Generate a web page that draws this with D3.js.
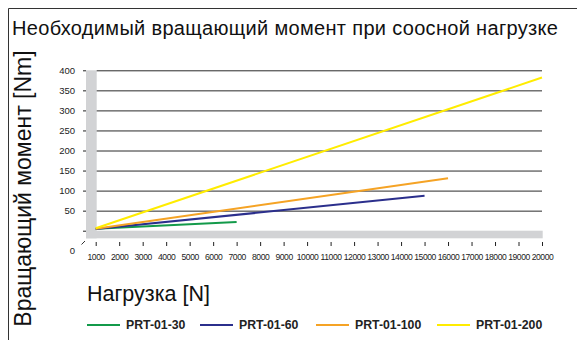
<!DOCTYPE html>
<html>
<head>
<meta charset="utf-8">
<script src="https://cdn.jsdelivr.net/npm/d3@7"></script>
<style>
  html, body { margin: 0; padding: 0; background: #fff; }
  svg { display: block; font-family: "Liberation Sans", Arial, Helvetica, sans-serif; }
</style>
</head>
<body>
<svg id="chart" width="577" height="340"></svg>
<script>
// Load range on the x axis (N) and torque ticks on the y axis (Nm)
const xTicks = [1000, 2000, 3000, 4000, 5000, 6000, 7000, 8000, 9000, 10000,
                11000, 12000, 13000, 14000, 15000, 16000, 17000, 18000, 19000, 20000];
const yTicks = [0, 50, 100, 150, 200, 250, 300, 350, 400];

// Actuator models and their colours
const models = ["PRT-01-30", "PRT-01-60", "PRT-01-100", "PRT-01-200"];
const colors = ["#139a4a", "#2b2f8c", "#f5a325", "#ffec00"];

// Required torque (Nm) at the start and end of each model's load range
const loads = [
  [1000, 7000],
  [1000, 15000],
  [1000, 16000],
  [1000, 20000]
];
const torques = [
  [5, 22],
  [4, 87],
  [5, 131],
  [6, 382]
];

const svg = d3.select("#chart");

const x = d3.scaleLinear().domain([1000, 20000]).range([95.7, 542]);
const y = d3.scaleLinear().domain([0, 400]).range([230.7, 70.3]);

// Outer frame (top and left edges)
svg.append("path")
  .attr("d", "M8.5,340 V8.5 H577")
  .attr("fill", "none").attr("stroke", "#333").attr("stroke-width", 1);

// Title
svg.append("text")
  .attr("x", 12).attr("y", 35)
  .attr("font-size", 20).attr("fill", "#111")
  .attr("letter-spacing", 0.32)
  .text("Необходимый вращающий момент при соосной нагрузке");

// Grey axis bands
const band = "#d2d3d5";
svg.append("rect")
  .attr("x", 86).attr("y", y(400))
  .attr("width", x(1000) + 1 - 86).attr("height", 238.3 - y(400))
  .attr("fill", band);
svg.append("rect")
  .attr("x", 86).attr("y", y(0))
  .attr("width", x(20000) + 0.7 - 86).attr("height", 238.3 - y(0))
  .attr("fill", band);

// Horizontal gridlines
const grid = svg.append("g")
  .attr("transform", `translate(${x(1000) + 1},0)`)
  .call(d3.axisLeft(y).tickValues(yTicks.filter(d => d > 0))
    .tickSize(-(x(20000) - x(1000) - 1)).tickFormat(""));
grid.select(".domain").remove();
grid.selectAll(".tick line").attr("stroke", "#2a2a2a").attr("stroke-width", 1);

// Y axis ticks and labels
const yAxis = svg.append("g")
  .attr("transform", "translate(86,0)")
  .call(d3.axisLeft(y).tickValues(yTicks).tickSize(3).tickPadding(8)
    .tickFormat(d => d === 0 ? "" : d));
yAxis.select(".domain").remove();
yAxis.selectAll(".tick line").attr("stroke", "#222");
yAxis.selectAll(".tick text")
  .attr("font-size", 9.5).attr("fill", "#222")
  .attr("font-family", "'Liberation Sans', Arial, sans-serif");

// Zero label below the axis break
svg.append("text")
  .attr("x", 75).attr("y", 253.5)
  .attr("text-anchor", "end")
  .attr("font-size", 9.5).attr("fill", "#222")
  .text(yTicks[0]);
svg.append("line")
  .attr("x1", 81.5).attr("y1", 244.5).attr("x2", 85).attr("y2", 241)
  .attr("stroke", "#333").attr("stroke-width", 1);

// X axis ticks and labels
const xAxis = svg.append("g")
  .attr("transform", "translate(0,242)")
  .call(d3.axisBottom(x).tickValues(xTicks).tickSize(4).tickPadding(7.5)
    .tickFormat(d => d));
xAxis.select(".domain").remove();
xAxis.selectAll(".tick line").attr("stroke", "#222");
xAxis.selectAll(".tick text")
  .attr("font-size", 8.6).attr("fill", "#222")
  .attr("letter-spacing", -0.45)
  .attr("font-family", "'Liberation Sans', Arial, sans-serif");

// Series lines
const line = d3.line().x(d => x(d[0])).y(d => y(d[1]));
models.forEach((m, i) => {
  const pts = loads[i].map((l, j) => [l, torques[i][j]]);
  svg.append("path")
    .datum(pts)
    .attr("d", line)
    .attr("fill", "none")
    .attr("stroke", colors[i])
    .attr("stroke-width", 2);
});

// Axis titles
svg.append("text")
  .attr("transform", "translate(31,188.5) rotate(-90)")
  .attr("text-anchor", "middle")
  .attr("font-size", 23).attr("fill", "#111")
  .text("Вращающий момент [Nm]");
svg.append("text")
  .attr("x", 87).attr("y", 301)
  .attr("font-size", 21.5).attr("fill", "#111")
  .text("Нагрузка [N]");

// Legend
const legendX = [87, 200, 316, 437];
const legend = svg.append("g").attr("transform", "translate(0,325)");
models.forEach((m, i) => {
  const g = legend.append("g").attr("transform", `translate(${legendX[i]},0)`);
  g.append("line")
    .attr("x1", 0).attr("x2", 33).attr("y1", 0).attr("y2", 0)
    .attr("stroke", colors[i]).attr("stroke-width", 2);
  g.append("text")
    .attr("x", 39).attr("y", 4.2)
    .attr("font-size", 12.3).attr("font-weight", "bold").attr("fill", "#222")
    .text(m);
});
</script>
</body>
</html>
